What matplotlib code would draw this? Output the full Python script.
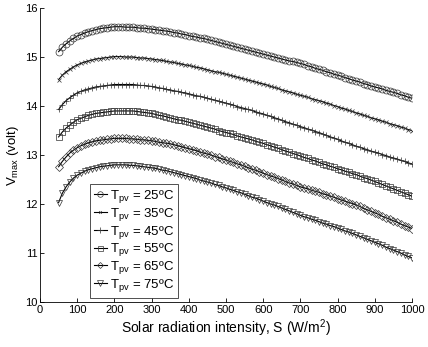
import numpy as np
import matplotlib
matplotlib.use("Agg")
import matplotlib.pyplot as plt

plt.rcParams['font.family'] = ['Liberation Sans', 'DejaVu Sans']

# solar radiation grid (W/m2)
S = np.arange(50, 1001, 10)

# Vmax, one list per cell temperature
v25 = [15.11, 15.20, 15.27, 15.33, 15.38, 15.43, 15.46, 15.49, 15.52, 15.54,
       15.56, 15.58, 15.59, 15.60, 15.61, 15.62, 15.62, 15.62, 15.61, 15.61,
       15.61, 15.60, 15.59, 15.59, 15.58, 15.57, 15.56, 15.55, 15.54, 15.53,
       15.52, 15.50, 15.49, 15.47, 15.46, 15.44, 15.42, 15.41, 15.39, 15.38,
       15.36, 15.34, 15.32, 15.30, 15.28, 15.26, 15.24, 15.22, 15.20, 15.18,
       15.16, 15.14, 15.12, 15.10, 15.08, 15.06, 15.04, 15.02, 15.00, 14.98,
       14.96, 14.94, 14.92, 14.91, 14.89, 14.87, 14.85, 14.82, 14.80, 14.77,
       14.75, 14.73, 14.70, 14.68, 14.65, 14.63, 14.61, 14.58, 14.56, 14.53,
       14.51, 14.49, 14.46, 14.44, 14.41, 14.39, 14.37, 14.35, 14.32, 14.30,
       14.28, 14.26, 14.23, 14.21, 14.18, 14.16]
v35 = [14.54, 14.63, 14.70, 14.75, 14.80, 14.84, 14.87, 14.90, 14.92, 14.94,
       14.96, 14.97, 14.98, 14.99, 15.00, 15.01, 15.01, 15.01, 15.00, 15.00,
       15.00, 14.99, 14.98, 14.98, 14.97, 14.96, 14.95, 14.94, 14.93, 14.91,
       14.90, 14.89, 14.87, 14.86, 14.84, 14.83, 14.81, 14.79, 14.78, 14.76,
       14.74, 14.72, 14.70, 14.69, 14.67, 14.65, 14.63, 14.61, 14.59, 14.57,
       14.55, 14.53, 14.51, 14.49, 14.47, 14.45, 14.43, 14.40, 14.38, 14.36,
       14.33, 14.31, 14.29, 14.27, 14.24, 14.22, 14.20, 14.18, 14.15, 14.13,
       14.11, 14.09, 14.06, 14.04, 14.01, 13.99, 13.96, 13.94, 13.91, 13.89,
       13.86, 13.84, 13.81, 13.79, 13.76, 13.74, 13.72, 13.69, 13.67, 13.64,
       13.62, 13.60, 13.57, 13.55, 13.52, 13.50]
v45 = [13.93, 14.03, 14.11, 14.17, 14.22, 14.27, 14.30, 14.33, 14.35, 14.37,
       14.39, 14.40, 14.41, 14.42, 14.43, 14.44, 14.44, 14.44, 14.44, 14.44,
       14.44, 14.43, 14.42, 14.42, 14.41, 14.40, 14.39, 14.37, 14.36, 14.34,
       14.33, 14.31, 14.30, 14.28, 14.27, 14.25, 14.23, 14.21, 14.20, 14.18,
       14.16, 14.14, 14.12, 14.10, 14.08, 14.06, 14.04, 14.02, 13.99, 13.97,
       13.95, 13.93, 13.91, 13.88, 13.86, 13.84, 13.81, 13.79, 13.76, 13.74,
       13.71, 13.68, 13.66, 13.63, 13.61, 13.58, 13.56, 13.53, 13.51, 13.48,
       13.46, 13.43, 13.40, 13.37, 13.35, 13.32, 13.29, 13.26, 13.24, 13.21,
       13.18, 13.16, 13.13, 13.11, 13.08, 13.06, 13.04, 13.01, 12.99, 12.96,
       12.94, 12.92, 12.89, 12.87, 12.84, 12.82]
v55 = [13.37, 13.47, 13.55, 13.61, 13.67, 13.72, 13.75, 13.78, 13.81, 13.83,
       13.85, 13.86, 13.87, 13.88, 13.89, 13.90, 13.90, 13.90, 13.90, 13.90,
       13.90, 13.89, 13.88, 13.87, 13.86, 13.85, 13.83, 13.81, 13.80, 13.78,
       13.76, 13.74, 13.72, 13.71, 13.69, 13.67, 13.65, 13.63, 13.61, 13.59,
       13.57, 13.55, 13.53, 13.50, 13.48, 13.46, 13.44, 13.42, 13.39, 13.37,
       13.35, 13.33, 13.31, 13.28, 13.26, 13.24, 13.21, 13.19, 13.16, 13.14,
       13.11, 13.08, 13.06, 13.03, 13.01, 12.98, 12.95, 12.93, 12.90, 12.88,
       12.85, 12.82, 12.80, 12.77, 12.75, 12.72, 12.70, 12.67, 12.65, 12.62,
       12.60, 12.57, 12.54, 12.52, 12.49, 12.46, 12.43, 12.40, 12.37, 12.34,
       12.31, 12.28, 12.25, 12.22, 12.19, 12.16]
v65 = [12.76, 12.87, 12.96, 13.04, 13.10, 13.15, 13.19, 13.22, 13.25, 13.27,
       13.29, 13.30, 13.31, 13.32, 13.33, 13.34, 13.34, 13.34, 13.34, 13.33,
       13.33, 13.32, 13.31, 13.31, 13.30, 13.29, 13.28, 13.26, 13.25, 13.24,
       13.23, 13.21, 13.19, 13.17, 13.15, 13.13, 13.11, 13.09, 13.06, 13.04,
       13.02, 13.00, 12.97, 12.95, 12.92, 12.90, 12.87, 12.85, 12.82, 12.80,
       12.77, 12.74, 12.71, 12.69, 12.66, 12.63, 12.60, 12.57, 12.55, 12.52,
       12.49, 12.46, 12.43, 12.41, 12.38, 12.35, 12.33, 12.31, 12.28, 12.26,
       12.24, 12.21, 12.19, 12.16, 12.14, 12.11, 12.08, 12.06, 12.03, 12.01,
       11.98, 11.95, 11.91, 11.88, 11.85, 11.82, 11.79, 11.75, 11.72, 11.69,
       11.66, 11.63, 11.59, 11.56, 11.53, 11.50]
v75 = [12.03, 12.22, 12.35, 12.45, 12.53, 12.59, 12.63, 12.67, 12.70, 12.72,
       12.74, 12.76, 12.77, 12.78, 12.79, 12.80, 12.80, 12.80, 12.80, 12.79,
       12.79, 12.78, 12.77, 12.76, 12.75, 12.74, 12.73, 12.71, 12.69, 12.68,
       12.66, 12.64, 12.62, 12.60, 12.58, 12.56, 12.54, 12.52, 12.49, 12.47,
       12.45, 12.43, 12.40, 12.38, 12.35, 12.33, 12.30, 12.28, 12.25, 12.23,
       12.20, 12.17, 12.14, 12.12, 12.09, 12.06, 12.03, 12.00, 11.98, 11.95,
       11.92, 11.89, 11.86, 11.83, 11.80, 11.77, 11.74, 11.72, 11.69, 11.67,
       11.64, 11.61, 11.59, 11.56, 11.54, 11.51, 11.48, 11.45, 11.43, 11.40,
       11.37, 11.34, 11.31, 11.28, 11.25, 11.22, 11.19, 11.16, 11.12, 11.09,
       11.06, 11.03, 11.00, 10.96, 10.93, 10.90]

temps = [25, 35, 45, 55, 65, 75]
series = [v25, v35, v45, v55, v65, v75]
markers = ['o', 'x', '+', 's', 'D', 'v']
msizes = [5, 2.5, 5, 4.5, 3.8, 4.8]

fig = plt.figure(figsize=(4.28, 3.47), dpi=100)
ax = fig.add_axes([0.0935, 0.1297, 0.869, 0.847])

for t, v, mk, ms in zip(temps, series, markers, msizes):
    ax.plot(S, v, color='black', lw=0.8, marker=mk, ms=ms,
            mfc='none', mec='#333333', mew=0.5,
            label='T$_{\\mathregular{pv}}$ = %dºC' % t)

ax.set_xlim(0, 1000)
ax.set_ylim(10, 16)
ax.set_xticks(range(0, 1001, 100))
ax.set_yticks(range(10, 17))
ax.spines['top'].set_visible(False)
ax.spines['right'].set_visible(False)
ax.spines['left'].set_linewidth(0.6)
ax.spines['bottom'].set_linewidth(0.6)
ax.tick_params(direction='in', length=3, width=0.6, labelsize=8, pad=2)

ax.set_xlabel('Solar radiation intensity, S (W/m$^{\\mathregular{2}}$)', fontsize=10, labelpad=2)
ax.set_ylabel('V$_{\\mathregular{max}}$ (volt)', fontsize=9.5, labelpad=3)

leg = ax.legend(loc='lower left', bbox_to_anchor=(0.134, 0.014), borderaxespad=0,
                fontsize=9.5, frameon=True, fancybox=False, handlelength=1.0,
                handletextpad=0.25, labelspacing=0.06, borderpad=0.3,
                markerscale=0.8)
leg.get_frame().set_edgecolor('black')
leg.get_frame().set_linewidth(0.6)

fig.savefig('out.png', dpi=100)
